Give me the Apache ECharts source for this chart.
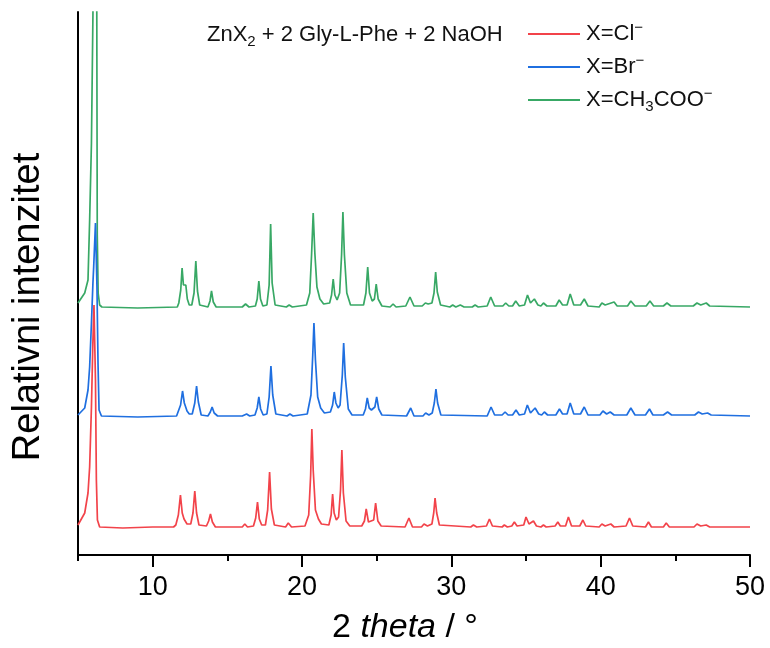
<!DOCTYPE html>
<html>
<head>
<meta charset="utf-8">
<script src="https://cdn.jsdelivr.net/npm/echarts@6/dist/echarts.min.js"></script>
<style>
html,body{margin:0;padding:0;background:#fff;}
#chart{width:770px;height:648px;}
</style>
</head>
<body>
<div id="chart"></div>
<script>
// 2θ (°) vs. relative intensity (stacked display, arbitrary units)
const clPattern = [[5.0,30],[5.45,42],[5.67,62],[5.78,88],[5.9,148],[6.0,215],[6.07,250],[6.17,175],[6.23,75],[6.3,35],[6.45,28],
[8.0,27],[10.0,28],[11.4,28],
[11.55,30],[11.72,40],[11.86,60],[11.98,42],[12.1,36],[12.15,37],[12.3,31],
[12.55,31],[12.7,42],[12.82,64],[12.94,42],[13.1,30],
[13.6,29],[13.75,34],[13.87,41],[14.0,33],[14.2,28],
[15.8,28],[16.0,28],[16.17,31],[16.35,28],
[16.75,29],[16.9,37],[17.02,53],[17.14,36],[17.3,30],
[17.55,30],[17.7,45],[17.83,83],[17.95,46],[18.15,30],
[18.9,28],[19.08,32],[19.3,28],
[20.2,29],[20.45,40],[20.58,80],[20.66,126],[20.75,85],[20.9,45],[21.1,36],[21.3,31],
[21.8,30],[21.95,40],[22.05,61],[22.15,42],[22.3,35],
[22.45,38],[22.58,65],[22.67,105],[22.77,62],[22.95,34],[23.2,29],
[24.0,29],[24.18,34],[24.3,46],[24.45,33],
[24.8,35],[24.93,52],[25.08,34],[25.3,29],
[26.9,28],[27.16,37],[27.4,28],
[28.0,28],[28.17,31],[28.4,29],
[28.7,31],[28.82,42],[28.91,57],[29.02,42],[29.2,30],
[31.3,28],[31.48,30],[31.7,28],
[32.35,29],[32.55,36],[32.75,29],
[33.4,28],[33.55,30],[33.75,28],
[34.05,29],[34.22,33],[34.4,29],
[34.85,30],[35.0,38],[35.2,31],[35.5,34],[35.7,29],
[36.0,28],[36.17,30],[36.35,28],
[36.95,29],[37.13,33],[37.3,29],
[37.65,29],[37.84,38],[38.05,29],
[38.6,29],[38.81,35],[39.0,29],
[39.9,28],[40.08,31],[40.3,29],[40.68,31],[40.9,28],
[41.7,29],[41.93,37],[42.15,29],
[43.0,28],[43.2,33],[43.4,28],
[44.2,28],[44.39,32],[44.6,28],
[46.25,28],[46.45,31],[46.7,29],[47.07,30],[47.3,28],
[50,28]];

const brPattern = [[5.0,140],[5.45,147],[5.67,165],[5.78,188],[5.9,232],[6.0,272],[6.05,288],[6.17,332],[6.27,268],[6.34,192],[6.41,145],[6.57,139],
[9.0,138],[11.6,139],
[11.7,141],[11.87,150],[12.0,164],[12.12,152],[12.3,144],[12.45,141],
[12.65,141],[12.82,152],[12.94,169],[13.06,153],[13.25,140],
[13.7,139],[13.86,143],[13.98,148],[14.12,142],[14.35,139],
[16.0,139],[16.29,141],[16.5,139],
[16.85,140],[17.0,147],[17.11,158],[17.23,146],[17.4,140],
[17.65,141],[17.8,158],[17.92,189],[18.04,160],[18.25,141],
[19.0,139],[19.19,141],[19.4,139],
[20.35,141],[20.6,160],[20.72,200],[20.8,232],[20.9,195],[21.05,158],[21.25,147],[21.5,142],
[21.9,143],[22.05,150],[22.16,163],[22.27,152],[22.42,147],
[22.55,150],[22.7,180],[22.79,212],[22.9,178],[23.1,146],[23.35,140],
[24.1,140],[24.25,146],[24.37,157],[24.5,147],[24.65,145],
[24.88,148],[25.0,158],[25.14,146],[25.35,140],
[27.0,139],[27.28,147],[27.5,139],
[28.1,139],[28.28,142],[28.5,140],
[28.72,142],[28.86,152],[28.97,166],[29.08,152],[29.3,140],
[32.4,139],[32.66,148],[32.9,140],
[33.4,140],[33.6,143],[33.8,140],
[34.1,140],[34.33,145],[34.55,140],
[34.9,141],[35.09,150],[35.3,142],[35.61,147],[35.85,141],
[36.05,140],[36.23,143],[36.45,140],
[37.0,140],[37.24,146],[37.45,141],
[37.75,141],[37.96,152],[38.2,141],
[38.65,141],[38.9,148],[39.15,140],
[39.95,140],[40.15,144],[40.4,141],[40.64,143],[40.9,140],
[41.75,140],[42.02,147],[42.3,140],
[43.0,140],[43.27,146],[43.5,140],
[44.2,140],[44.48,143],[44.75,140],
[46.3,140],[46.55,143],[46.8,141],[47.16,142],[47.4,140],
[50,139]];

const acPattern = [[5.0,252],[5.45,262],[5.67,275],[5.78,335],[5.9,412],[6.0,540],[6.05,640],[6.12,820],[6.2,820],[6.25,600],[6.29,320],[6.35,262],[6.45,250],[6.6,248],
[9.0,247],[11.65,248],
[11.75,252],[11.88,265],[11.97,287],[12.06,270],[12.14,268],[12.22,270],[12.32,256],[12.45,250],
[12.62,250],[12.77,262],[12.89,294],[13.0,264],[13.15,250],
[13.7,248],[13.84,254],[13.94,264],[14.06,253],[14.25,248],
[16.0,248],[16.22,251],[16.45,248],
[16.88,249],[17.0,256],[17.11,274],[17.22,256],[17.38,249],
[17.65,250],[17.8,270],[17.9,331],[18.0,272],[18.2,250],
[18.95,248],[19.14,250],[19.35,248],
[20.3,250],[20.52,262],[20.64,300],[20.75,342],[20.86,302],[21.0,268],[21.2,256],[21.45,251],
[21.85,252],[21.98,260],[22.09,276],[22.2,260],[22.35,255],
[22.52,262],[22.65,300],[22.74,343],[22.84,300],[23.0,262],[23.25,250],
[24.12,250],[24.28,262],[24.4,288],[24.52,262],[24.7,254],
[24.85,256],[24.97,271],[25.1,256],[25.35,249],
[25.9,248],[26.1,251],[26.3,248],
[26.95,249],[27.23,258],[27.5,249],
[28.05,249],[28.26,252],[28.45,251],
[28.7,252],[28.84,262],[28.95,283],[29.06,263],[29.28,250],
[29.9,248],[30.09,250],[30.3,248],[30.6,250],[30.85,248],
[31.4,248],[31.59,250],[31.8,248],
[32.4,249],[32.64,258],[32.9,249],
[33.45,249],[33.64,252],[33.85,249],
[34.1,249],[34.31,254],[34.55,249],
[34.9,250],[35.1,260],[35.3,252],[35.56,256],[35.8,250],
[36.0,249],[36.17,252],[36.4,249],
[37.0,249],[37.22,255],[37.45,250],
[37.75,250],[37.96,261],[38.2,250],
[38.65,250],[38.9,256],[39.15,249],
[39.9,248],[40.08,252],[40.3,250],[40.9,253],[41.1,249],
[41.8,249],[42.02,254],[42.3,249],
[43.05,249],[43.3,254],[43.55,249],
[44.2,249],[44.44,252],[44.7,249],
[46.2,249],[46.45,252],[46.7,250],[47.07,252],[47.3,249],
[50,248]];

const seriesNames = ['Cl', 'Br', 'CH3COO'];
const majorTicks = [10, 20, 30, 40, 50];
const minorTicks = [5, 15, 25, 35, 45];

const FONT = '"Liberation Sans", Arial, sans-serif';
const colors = ['#F2434A', '#1F6FE0', '#38A865'];

const legendRich = {
  a: {fontSize: 22, fontFamily: FONT, color: '#111', lineHeight: 28},
  sub: {fontSize: 15, fontFamily: FONT, color: '#111', verticalAlign: 'bottom', lineHeight: 15},
  sup: {fontSize: 15, fontFamily: FONT, color: '#111', verticalAlign: 'top', lineHeight: 15}
};
const legendLabels = {
  'Cl': '{a|X=Cl}{sup|−}',
  'Br': '{a|X=Br}{sup|−}',
  'CH3COO': '{a|X=CH}{sub|3}{a|COO}{sup|−}'
};

const chart = echarts.init(document.getElementById('chart'), null, {renderer: 'canvas'});
chart.setOption({
  animation: false,
  backgroundColor: '#fff',
  color: colors,
  grid: {left: 78, right: 20, top: 12, bottom: 93, containLabel: false},
  legend: {
    orient: 'vertical',
    left: 528,
    top: 20,
    padding: 0,
    icon: 'rect',
    itemWidth: 52,
    itemHeight: 2,
    itemGap: 8,
    data: seriesNames,
    formatter: function (n) { return legendLabels[n]; },
    textStyle: {fontSize: 22, fontFamily: FONT, color: '#111', rich: legendRich, padding: [0, 0, 0, 1]}
  },
  xAxis: [{
    type: 'value', min: 5, max: 50,
    axisLine: {show: true, onZero: false, lineStyle: {color: '#000', width: 2}},
    axisTick: {show: true, customValues: majorTicks, length: 12, lineStyle: {color: '#000', width: 2}},
    axisLabel: {show: true, customValues: majorTicks, fontSize: 27, fontFamily: FONT, color: '#000', margin: 19},
    splitLine: {show: false}
  }, {
    type: 'value', min: 5, max: 50, position: 'bottom',
    axisLine: {show: false},
    axisTick: {show: true, customValues: minorTicks, length: 6, lineStyle: {color: '#000', width: 2}},
    axisLabel: {show: false},
    splitLine: {show: false}
  }],
  yAxis: {
    type: 'value', min: 0, max: 543,
    axisLine: {show: true, onZero: false, lineStyle: {color: '#000', width: 2}},
    axisTick: {show: false},
    axisLabel: {show: false},
    splitLine: {show: false}
  },
  graphic: [
    {
      type: 'text', left: 207, top: 24,
      style: {
        text: '{a|ZnX}{sub|2}{a| + 2 Gly-L-Phe + 2 NaOH}',
        rich: {
          a: {fontSize: 22, fontFamily: FONT, fill: '#111', lineHeight: 28},
          sub: {fontSize: 15, fontFamily: FONT, fill: '#111', verticalAlign: 'bottom', lineHeight: 15}
        }
      }
    },
    {
      type: 'text', x: 29, y: 307, rotation: Math.PI / 2,
      style: {text: 'Relativni intenzitet', fontSize: 38, fontFamily: FONT, fill: '#000', align: 'center', verticalAlign: 'middle'}
    },
    {
      type: 'text', x: 405, y: 628,
      style: {
        text: '{n|2 }{i|theta}{n| / °}',
        align: 'center', verticalAlign: 'middle',
        rich: {
          n: {fontSize: 34, fontFamily: FONT, fill: '#000'},
          i: {fontSize: 34, fontFamily: FONT, fontStyle: 'italic', fill: '#000'}
        }
      }
    }
  ],
  series: [
    {name: 'Cl', type: 'line', data: clPattern, symbol: 'none', clip: true, lineStyle: {width: 1.7, color: colors[0]}, z: 3},
    {name: 'Br', type: 'line', data: brPattern, symbol: 'none', clip: true, lineStyle: {width: 1.7, color: colors[1]}, z: 2},
    {name: 'CH3COO', type: 'line', data: acPattern, symbol: 'none', clip: true, lineStyle: {width: 1.7, color: colors[2]}, z: 1}
  ]
});
</script>
</body>
</html>
